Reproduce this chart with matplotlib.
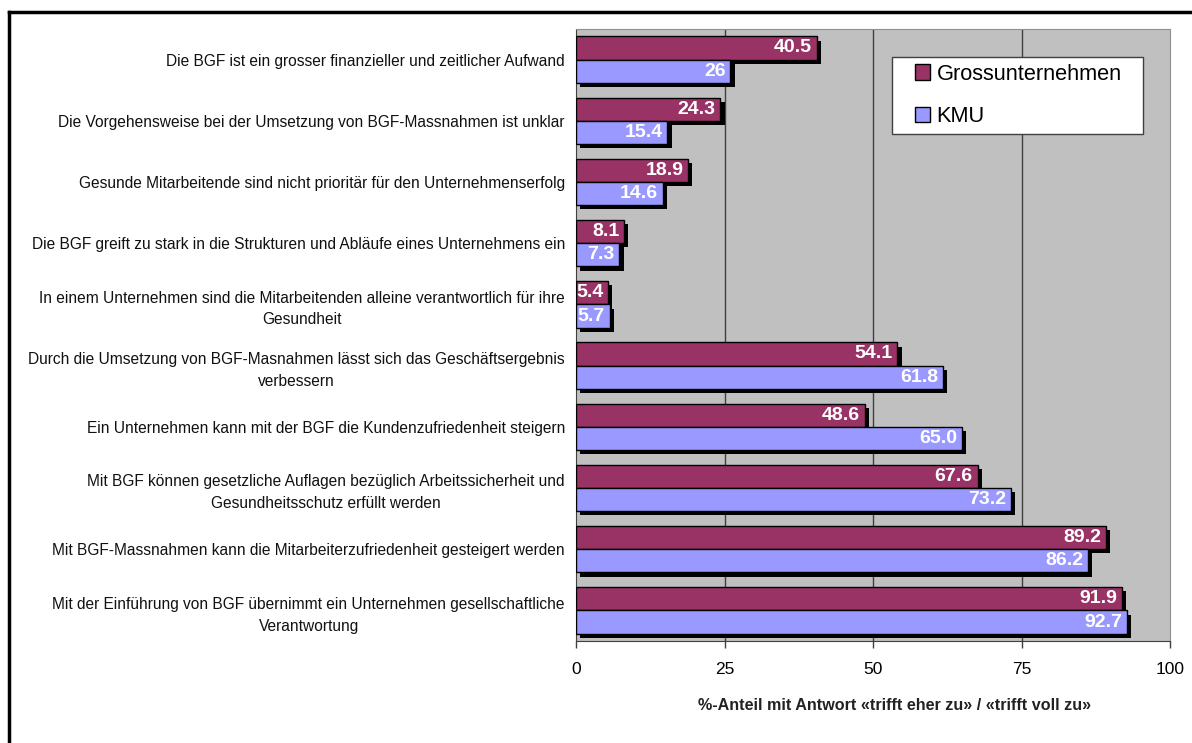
import numpy as np
import matplotlib
matplotlib.use("Agg")
from matplotlib import pyplot as plt
from matplotlib import patheffects as pe
from matplotlib.lines import Line2D
from matplotlib.legend_handler import HandlerPatch

categories = [
    "Die BGF ist ein grosser finanzieller und zeitlicher Aufwand",
    "Die Vorgehensweise bei der Umsetzung von BGF-Massnahmen ist unklar",
    "Gesunde Mitarbeitende sind nicht prioritär für den Unternehmenserfolg",
    "Die BGF greift zu stark in die Strukturen und Abläufe eines Unternehmens ein",
    "In einem Unternehmen sind die Mitarbeitenden alleine verantwortlich für ihre\nGesundheit",
    "Durch die Umsetzung von BGF-Masnahmen lässt sich das Geschäftsergebnis\nverbessern",
    "Ein Unternehmen kann mit der BGF die Kundenzufriedenheit steigern",
    "Mit BGF können gesetzliche Auflagen bezüglich Arbeitssicherheit und\nGesundheitsschutz erfüllt werden",
    "Mit BGF-Massnahmen kann die Mitarbeiterzufriedenheit gesteigert werden",
    "Mit der Einführung von BGF übernimmt ein Unternehmen gesellschaftliche\nVerantwortung",
]
gross = [40.5, 24.3, 18.9, 8.1, 5.4, 54.1, 48.6, 67.6, 89.2, 91.9]
kmu = [26, 15.4, 14.6, 7.3, 5.7, 61.8, 65.0, 73.2, 86.2, 92.7]
gross_labels = ["40.5", "24.3", "18.9", "8.1", "5.4", "54.1", "48.6", "67.6", "89.2", "91.9"]
kmu_labels = ["26", "15.4", "14.6", "7.3", "5.7", "61.8", "65.0", "73.2", "86.2", "92.7"]
xticks = [0, 25, 50, 75, 100]

plt.rcParams['font.family'] = ['Liberation Sans', 'DejaVu Sans']


def square_patch(legend, orig_handle, xdescent, ydescent, width, height, fontsize):
    # square sitting at the right end of the handle box
    return plt.Rectangle((-xdescent + width - height, -ydescent), height, height)


fig = plt.figure(figsize=(11.92, 7.43), dpi=100)
ax = fig.add_axes([576/1192, 1 - 641/743, 594/1192, 612/743])
ax.set_facecolor('#C0C0C0')

y = np.arange(len(categories))
h = 0.38
shadow = [pe.SimplePatchShadow(offset=(3, -3), shadow_rgbFace='black', alpha=1.0), pe.Normal()]

b1 = ax.barh(y - h/2, gross, height=h, color='#993366', edgecolor='black', linewidth=1, zorder=3)
b2 = ax.barh(y + h/2, kmu, height=h, color='#9999FF', edgecolor='black', linewidth=1, zorder=4)
for b in list(b1) + list(b2):
    b.set_path_effects(shadow)

for i in range(len(categories)):
    ax.text(gross[i] - 0.8, y[i] - h/2, gross_labels[i], ha='right', va='center',
            color='white', fontsize=14, fontweight='bold', zorder=6)
    ax.text(kmu[i] - 0.8, y[i] + h/2, kmu_labels[i], ha='right', va='center',
            color='white', fontsize=14, fontweight='bold', zorder=6)

ax.set_xlim(0, 100)
ax.set_ylim(len(categories) - 0.5, -0.5)
ax.set_xticks(xticks)
ax.set_xticklabels([str(t) for t in xticks], fontsize=12.5)
ax.tick_params(axis='x', direction='out', length=5, width=1, color='#404040', pad=10)
ax.set_yticks(y)
ax.set_yticklabels(categories, fontsize=11.2, multialignment='center',
                   color='#111111', linespacing=1.55)
ax.tick_params(axis='y', length=0, pad=8)

for t in xticks[1:-1]:
    ax.axvline(t, color='#404040', linewidth=1, zorder=1)

for s in ['top', 'right']:
    ax.spines[s].set_color('#909090')
ax.spines['left'].set_color('#404040')
ax.spines['bottom'].set_color('#404040')

ax.set_xlabel("%-Anteil mit Antwort «trifft eher zu» / «trifft voll zu»", fontsize=11.6,
              fontweight='bold', color='#222222')
ax.xaxis.set_label_coords((895 - 576) / 594, -(698 - 641) / 612)

handles = [plt.Rectangle((0, 0), 1, 1, facecolor='#993366', edgecolor='black'),
           plt.Rectangle((0, 0), 1, 1, facecolor='#9999FF', edgecolor='black')]
lx0 = (892 - 576) / 594
lx1 = (1143 - 576) / 594
ly1 = 1 - (57 - 29) / 612
ly0 = 1 - (133 - 29) / 612
leg = ax.legend(handles, ["Grossunternehmen", "KMU"], loc='upper left', mode='expand',
                bbox_to_anchor=(lx0, ly0, lx1 - lx0, ly1 - ly0),
                prop={'size': 15.7}, frameon=True, fancybox=False,
                framealpha=1, borderpad=0.3, borderaxespad=0,
                handler_map={plt.Rectangle: HandlerPatch(patch_func=square_patch)},
                handlelength=1.45, handleheight=0.7, handletextpad=0.3, labelspacing=1.0)
leg.get_frame().set_edgecolor('#404040')
leg.get_frame().set_facecolor('white')
leg.get_frame().set_linewidth(1)
leg.set_zorder(10)

# outer frame (cut at right and bottom)
fig.add_artist(Line2D([8.5/1192, 1], [1 - 12/743, 1 - 12/743], color='black', linewidth=2.5))
fig.add_artist(Line2D([8.5/1192, 8.5/1192], [0, 1 - 12/743], color='black', linewidth=2.5))

fig.savefig("out.png", dpi=100)
